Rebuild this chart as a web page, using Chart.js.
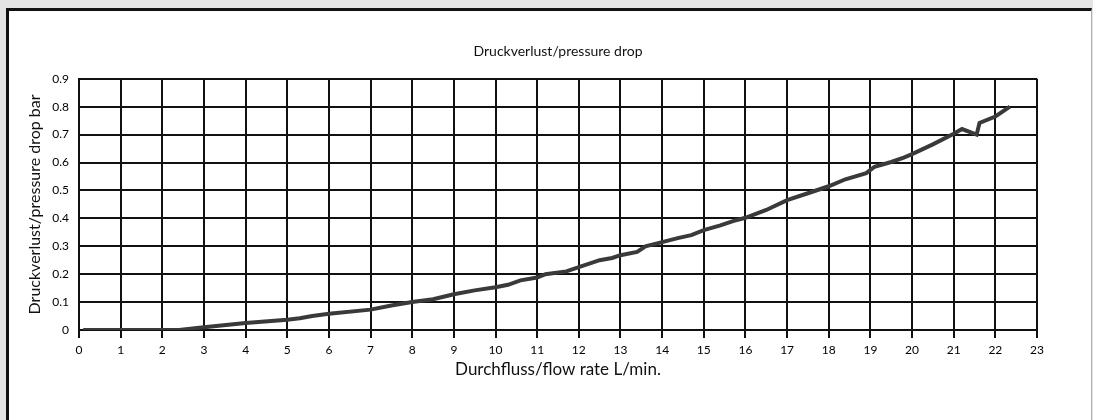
<!DOCTYPE html>
<html>
<head>
<meta charset="utf-8">
<script src="https://cdn.jsdelivr.net/npm/chart.js@4"></script>
<style>
  html, body { margin: 0; padding: 0; background: #e4e4e4; width: 1093px; height: 420px; overflow: hidden; }
  #panel { position: absolute; left: 6px; top: 8px; width: 1082px; height: 500px; background: #fff;
           border-left: 3px solid #111; border-top: 3px solid #111; border-right: 1px solid #b0b0b0; }
  #wrap { position: absolute; left: 0; top: 0; width: 1093px; height: 420px; }
</style>
</head>
<body>
<div id="panel"></div>
<div id="wrap"><canvas id="chart" width="1093" height="420"></canvas></div>
<script>
// flow rate L/min and pressure drop bar
const flowRate = [0.1, 2.4, 3, 4, 5, 5.3, 5.6, 6, 7, 7.5, 8, 8.5, 9, 9.5, 10, 10.3, 10.6, 11, 11.2, 11.7,
  12, 12.5, 12.8, 13, 13.4, 13.6, 14, 14.4, 14.7, 15, 15.4, 15.7, 16, 16.5, 17, 17.5, 18, 18.4, 18.9,
  19.1, 19.5, 19.8, 20, 20.5, 21, 21.2, 21.55, 21.62, 22, 22.35];
const pressureDrop = [0, 0, 0.01, 0.025, 0.037, 0.042, 0.05, 0.058, 0.073, 0.088, 0.1, 0.11, 0.128, 0.142,
  0.153, 0.162, 0.178, 0.188, 0.2, 0.21, 0.225, 0.25, 0.258, 0.268, 0.28, 0.3, 0.315, 0.33, 0.34, 0.358,
  0.375, 0.39, 0.402, 0.43, 0.465, 0.49, 0.515, 0.54, 0.562, 0.585, 0.602, 0.618, 0.63, 0.665, 0.703,
  0.72, 0.70, 0.742, 0.765, 0.80];
const yTickLabels = ['0', '0.1', '0.2', '0.3', '0.4', '0.5', '0.6', '0.7', '0.8', '0.9'];
const xTickLabels = ['0', '1', '2', '3', '4', '5', '6', '7', '8', '9', '10', '11', '12', '13', '14', '15',
  '16', '17', '18', '19', '20', '21', '22', '23'];

const font = "Lato, 'Noto Sans', sans-serif";
const ink = '#111';

new Chart(document.getElementById('chart'), {
  type: 'line',
  data: {
    datasets: [{
      data: flowRate.map((x, i) => ({ x: x, y: pressureDrop[i] })),
      borderColor: '#3a3a3a',
      borderWidth: 4,
      pointRadius: 0,
      tension: 0,
      fill: false
    }]
  },
  options: {
    responsive: false,
    animation: false,
    layout: { padding: { left: 20, right: 56, top: 0, bottom: 0 } },
    plugins: {
      legend: { display: false },
      tooltip: { enabled: false },
      title: {
        display: true,
        fullSize: false,
        text: 'Druckverlust/pressure drop',
        color: ink,
        font: { family: font, size: 14, weight: 'normal' },
        padding: { top: 43, bottom: 19 }
      }
    },
    scales: {
      x: {
        type: 'linear',
        min: 0,
        max: 23,
        afterFit: s => { s.height = 90; },
        ticks: {
          stepSize: 1,
          color: '#000',
          padding: 5,
          maxRotation: 0,
          autoSkip: false,
          font: { family: font, size: 12 },
          callback: (v, i) => xTickLabels[i]
        },
        grid: { color: ink, lineWidth: 2, tickLength: 8 },
        border: { color: ink, width: 2 },
        title: {
          display: true,
          text: 'Durchfluss/flow rate L/min.',
          color: ink,
          font: { family: font, size: 17 },
          padding: { top: 0, bottom: 40 }
        }
      },
      y: {
        min: 0,
        max: 0.9,
        afterFit: s => { s.width = 59; },
        ticks: {
          stepSize: 0.1,
          color: '#000',
          padding: 10,
          font: { family: font, size: 12 },
          callback: (v, i) => yTickLabels[i]
        },
        grid: { color: ink, lineWidth: 2, drawTicks: false },
        border: { color: ink, width: 2 },
        title: {
          display: true,
          text: 'Druckverlust/pressure drop bar',
          color: ink,
          font: { family: font, size: 16 },
          padding: { top: 5, bottom: 0 }
        }
      }
    }
  }
});
</script>
</body>
</html>
